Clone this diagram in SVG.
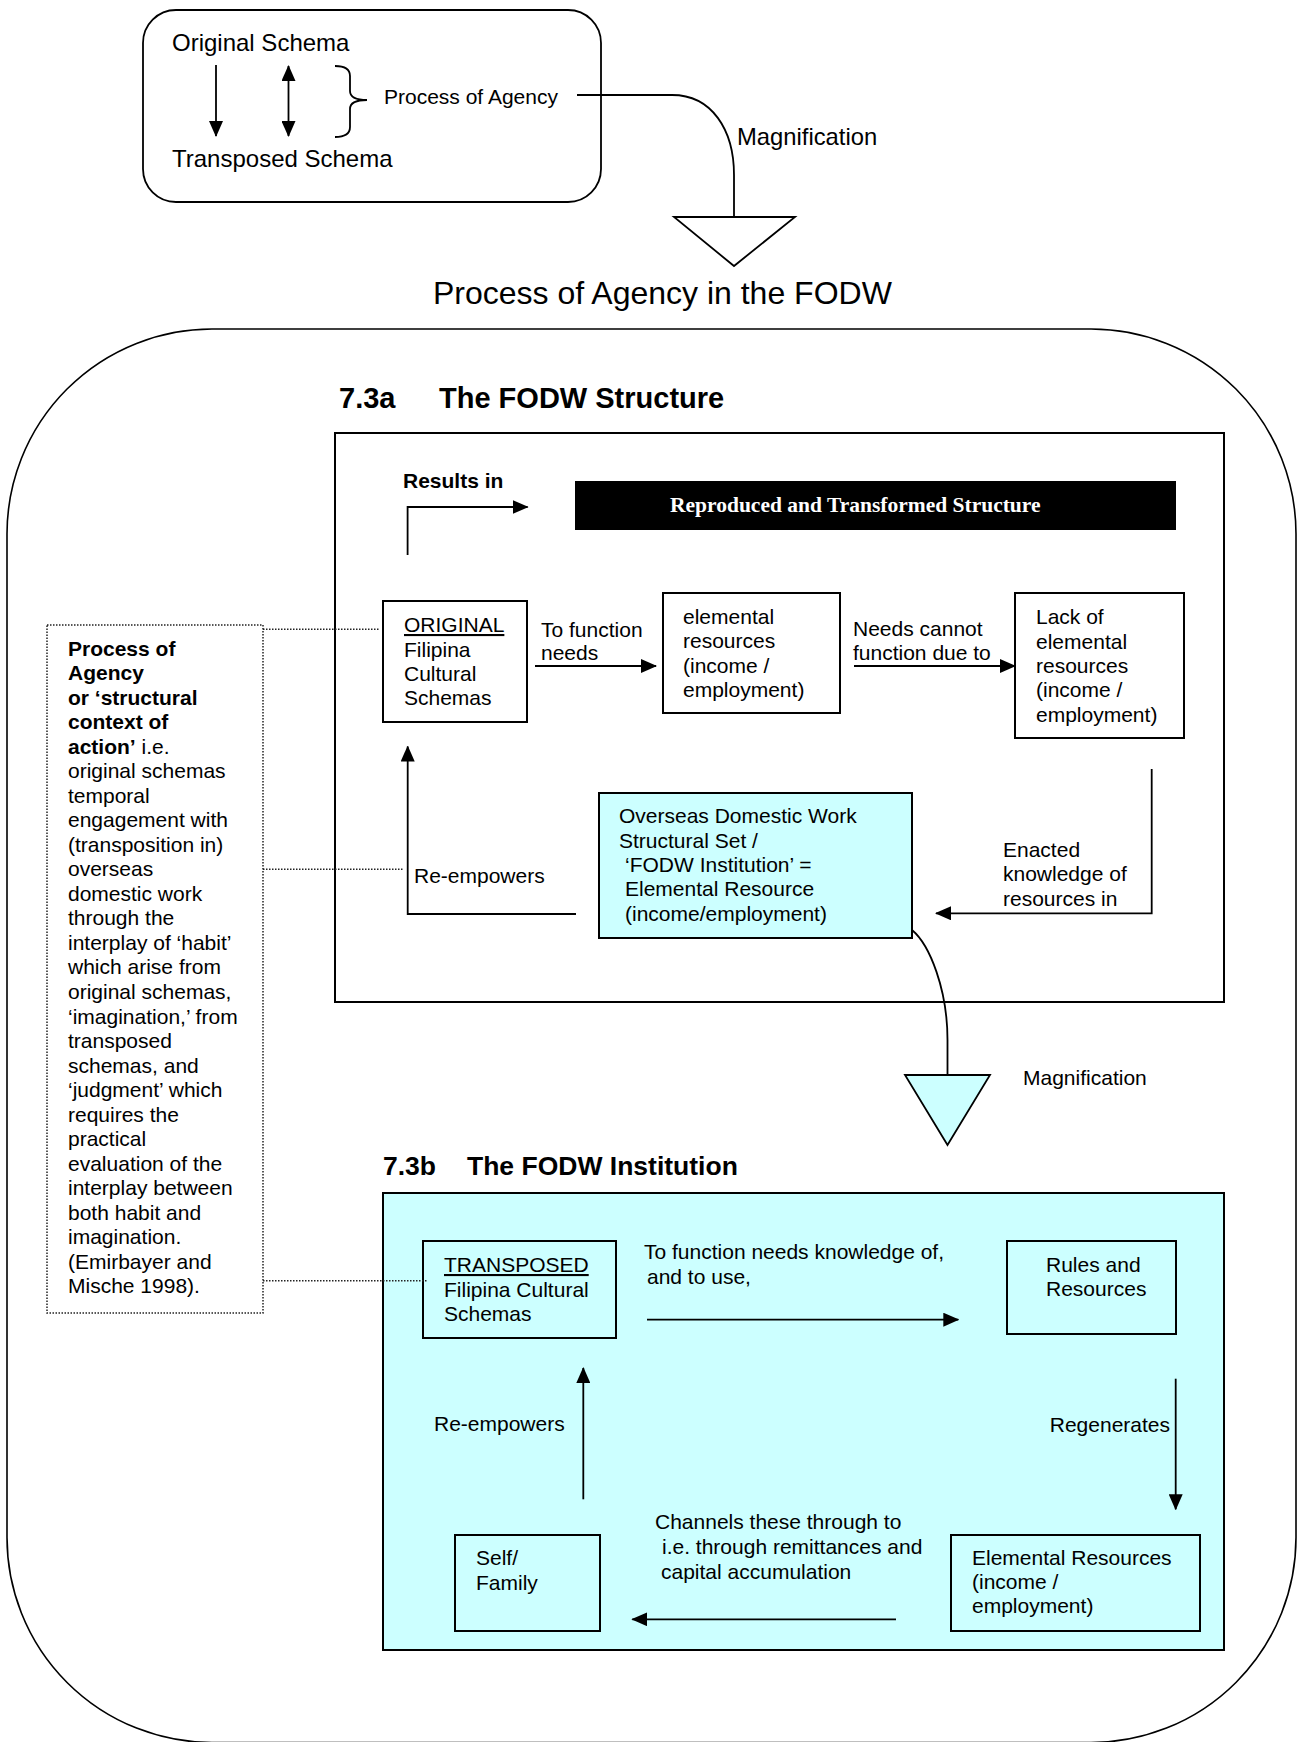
<svg xmlns="http://www.w3.org/2000/svg" width="1303" height="1742" viewBox="0 0 1303 1742">
<defs>
<marker id="ah" markerUnits="userSpaceOnUse" markerWidth="16" markerHeight="14" refX="15" refY="7" orient="auto"><path d="M0,0 L16,7 L0,14 z" fill="#000"/></marker>
</defs>
<style>
text{font-family:"Liberation Sans",Arial,sans-serif;fill:#000;font-size:21px}
.b{font-weight:bold}
.box{fill:#fff;stroke:#000;stroke-width:2}
.cyan{fill:#CCFFFF;stroke:#000;stroke-width:2}
.ln{fill:none;stroke:#000;stroke-width:1.8}
.arr{fill:none;stroke:#000;stroke-width:1.8;marker-end:url(#ah)}
.dot{fill:none;stroke:#222;stroke-width:1.5;stroke-dasharray:1.5 1.5}
.u{text-decoration:underline}
</style>

<!-- big rounded container -->
<rect id="container" x="7" y="329" width="1289" height="1413.5" rx="205" ry="205" fill="#fff" stroke="#000" stroke-width="1.6"/>

<!-- top legend -->
<g id="legend">
<rect x="143" y="10" width="458" height="192" rx="33" ry="33" fill="#fff" stroke="#000" stroke-width="1.8"/>
<text x="172" y="51" style="font-size:24px">Original Schema</text>
<text x="172" y="167" style="font-size:24px">Transposed Schema</text>
<line class="arr" x1="216" y1="65" x2="216" y2="136"/>
<line class="arr" x1="288.5" y1="100" x2="288.5" y2="136"/>
<line class="arr" x1="288.5" y1="100" x2="288.5" y2="66"/>
<path class="ln" d="M335 66 Q350 66 350 76 L350 91 Q350 100 367 100 Q350 100 350 109 L350 127 Q350 137 335 137"/>
<text x="384" y="104">Process of Agency</text>
</g>

<g id="magnify-top">
<polygon points="674,217 795,217 734,266" fill="#fff" stroke="#000" stroke-width="1.8"/>
<text x="737" y="145" style="font-size:23.8px">Magnification</text>
</g>

<text id="title" x="433" y="304" style="font-size:32px">Process of Agency in the FODW</text>

<!-- 7.3a -->
<g id="heading-a">
<text class="b" x="339" y="408" style="font-size:29px">7.3a</text>
<text class="b" x="439" y="408" style="font-size:29px">The FODW Structure</text>
</g>
<rect id="structure" x="335" y="433" width="889" height="569" fill="#fff" stroke="#000" stroke-width="2"/>

<g id="results-bar">
<rect x="575" y="481" width="601" height="49" fill="#000"/>
<text x="670" y="512" class="b" style="font-family:'Liberation Serif','Times New Roman',serif;font-size:21.5px;fill:#fff">Reproduced and Transformed Structure</text>
</g>
<text id="results-in" class="b" x="403" y="488">Results in</text>

<g id="original">
<rect class="box" x="383" y="601" width="144" height="121"/>
<text x="404" y="632" class="u">ORIGINAL</text>
<text x="404" y="656.5">Filipina</text>
<text x="404" y="681">Cultural</text>
<text x="404" y="705">Schemas</text>
</g>

<g id="elemental">
<rect class="box" x="663" y="593" width="177" height="120"/>
<text x="683" y="624">elemental</text>
<text x="683" y="648.3">resources</text>
<text x="683" y="672.6">(income /</text>
<text x="683" y="696.9">employment)</text>
</g>

<g id="lack">
<rect class="box" x="1015" y="593" width="169" height="145"/>
<text x="1036" y="624.3">Lack of</text>
<text x="1036" y="648.6">elemental</text>
<text x="1036" y="672.9">resources</text>
<text x="1036" y="697.2">(income /</text>
<text x="1036" y="721.5">employment)</text>
</g>

<g id="fodw-set">
<rect class="cyan" x="599" y="793" width="313" height="145"/>
<text x="619" y="823.3">Overseas Domestic Work</text>
<text x="619" y="847.6">Structural Set /</text>
<text x="625" y="872">‘FODW Institution’ =</text>
<text x="625" y="896.3">Elemental Resource</text>
<text x="625" y="920.6">(income/employment)</text>
</g>

<g id="labels-a">
<text x="541" y="636.7">To function</text>
<text x="541" y="660">needs</text>
<text x="853" y="636">Needs cannot</text>
<text x="853" y="660">function due to</text>
<text x="1003" y="856.7">Enacted</text>
<text x="1003" y="881">knowledge of</text>
<text x="1003" y="905.5">resources in</text>
<text x="414" y="883">Re-empowers</text>
</g>

<!-- 7.3b -->
<g id="magnify-bottom">
<polygon points="905,1075 990,1075 947.5,1145" fill="#CCFFFF" stroke="#000" stroke-width="1.8"/>
<text x="1023" y="1085">Magnification</text>
</g>
<g id="heading-b">
<text class="b" x="383" y="1175" style="font-size:26.5px">7.3b</text>
<text class="b" x="467" y="1175" style="font-size:26.5px">The FODW Institution</text>
</g>
<rect id="institution" x="383" y="1193" width="841" height="457" fill="#CCFFFF" stroke="#000" stroke-width="2"/>

<g id="transposed">
<rect class="cyan" x="423" y="1241" width="193" height="97"/>
<text x="444" y="1272" class="u">TRANSPOSED</text>
<text x="444" y="1296.5">Filipina Cultural</text>
<text x="444" y="1321">Schemas</text>
</g>
<g id="rules">
<rect class="cyan" x="1007" y="1241" width="169" height="93"/>
<text x="1046" y="1272">Rules and</text>
<text x="1046" y="1296">Resources</text>
</g>
<g id="elemental-b">
<rect class="cyan" x="951" y="1535" width="249" height="96"/>
<text x="972" y="1564.7">Elemental Resources</text>
<text x="972" y="1589">(income /</text>
<text x="972" y="1613">employment)</text>
</g>
<g id="self">
<rect class="cyan" x="455" y="1535" width="145" height="96"/>
<text x="476" y="1565.3">Self/</text>
<text x="476" y="1589.7">Family</text>
</g>
<g id="labels-b">
<text x="644" y="1259.3">To function needs knowledge of,</text>
<text x="647" y="1284.3">and to use,</text>
<text x="1170" y="1432" text-anchor="end">Regenerates</text>
<text x="434" y="1431.3">Re-empowers</text>
<text x="655" y="1529.3">Channels these through to</text>
<text x="662" y="1554">i.e. through remittances and</text>
<text x="661" y="1578.5">capital accumulation</text>
</g>

<!-- side note -->
<g id="agency-note">
<rect x="47" y="625" width="216" height="688" fill="#fff" class="dot"/>
<text x="68" y="655.7">
<tspan class="b" x="68" dy="0">Process of</tspan>
<tspan class="b" x="68" dy="24.52">Agency</tspan>
<tspan class="b" x="68" dy="24.52">or ‘structural</tspan>
<tspan class="b" x="68" dy="24.52">context of</tspan>
<tspan class="b" x="68" dy="24.52">action’</tspan><tspan> i.e.</tspan>
<tspan x="68" dy="24.52">original schemas</tspan>
<tspan x="68" dy="24.52">temporal</tspan>
<tspan x="68" dy="24.52">engagement with</tspan>
<tspan x="68" dy="24.52">(transposition in)</tspan>
<tspan x="68" dy="24.52">overseas</tspan>
<tspan x="68" dy="24.52">domestic work</tspan>
<tspan x="68" dy="24.52">through the</tspan>
<tspan x="68" dy="24.52">interplay of ‘habit’</tspan>
<tspan x="68" dy="24.52">which arise from</tspan>
<tspan x="68" dy="24.52">original schemas,</tspan>
<tspan x="68" dy="24.52">‘imagination,’ from</tspan>
<tspan x="68" dy="24.52">transposed</tspan>
<tspan x="68" dy="24.52">schemas, and</tspan>
<tspan x="68" dy="24.52">‘judgment’ which</tspan>
<tspan x="68" dy="24.52">requires the</tspan>
<tspan x="68" dy="24.52">practical</tspan>
<tspan x="68" dy="24.52">evaluation of the</tspan>
<tspan x="68" dy="24.52">interplay between</tspan>
<tspan x="68" dy="24.52">both habit and</tspan>
<tspan x="68" dy="24.52">imagination.</tspan>
<tspan x="68" dy="24.52">(Emirbayer and</tspan>
<tspan x="68" dy="24.52">Mische 1998).</tspan>
</text>
</g>

<!-- connectors -->
<g id="connectors">
<path class="ln" d="M577 95 H672 C712 95 734 130 734 175 V217"/>
<polyline class="arr" points="407.6,555 407.6,507 527.6,507"/>
<line class="arr" x1="535" y1="666" x2="656" y2="666"/>
<line class="arr" x1="854" y1="666" x2="1015" y2="666"/>
<polyline class="arr" points="1151.7,769 1151.7,913.3 936,913.3"/>
<polyline class="arr" points="576,914 407.7,914 407.7,746.5"/>
<path class="ln" d="M912 930 C930 945 947.5 990 947.5 1040 V1075"/>
<line class="arr" x1="647" y1="1319.7" x2="958.3" y2="1319.7"/>
<line class="arr" x1="1175.7" y1="1378.7" x2="1175.7" y2="1509.3"/>
<line class="arr" x1="896" y1="1619.3" x2="632.3" y2="1619.3"/>
<line class="arr" x1="583.3" y1="1499.3" x2="583.3" y2="1368"/>
<line class="dot" x1="263" y1="629.3" x2="380" y2="629.3"/>
<line class="dot" x1="263" y1="869.3" x2="404" y2="869.3"/>
<line class="dot" x1="263" y1="1280.7" x2="428" y2="1280.7"/>
</g>
</svg>
